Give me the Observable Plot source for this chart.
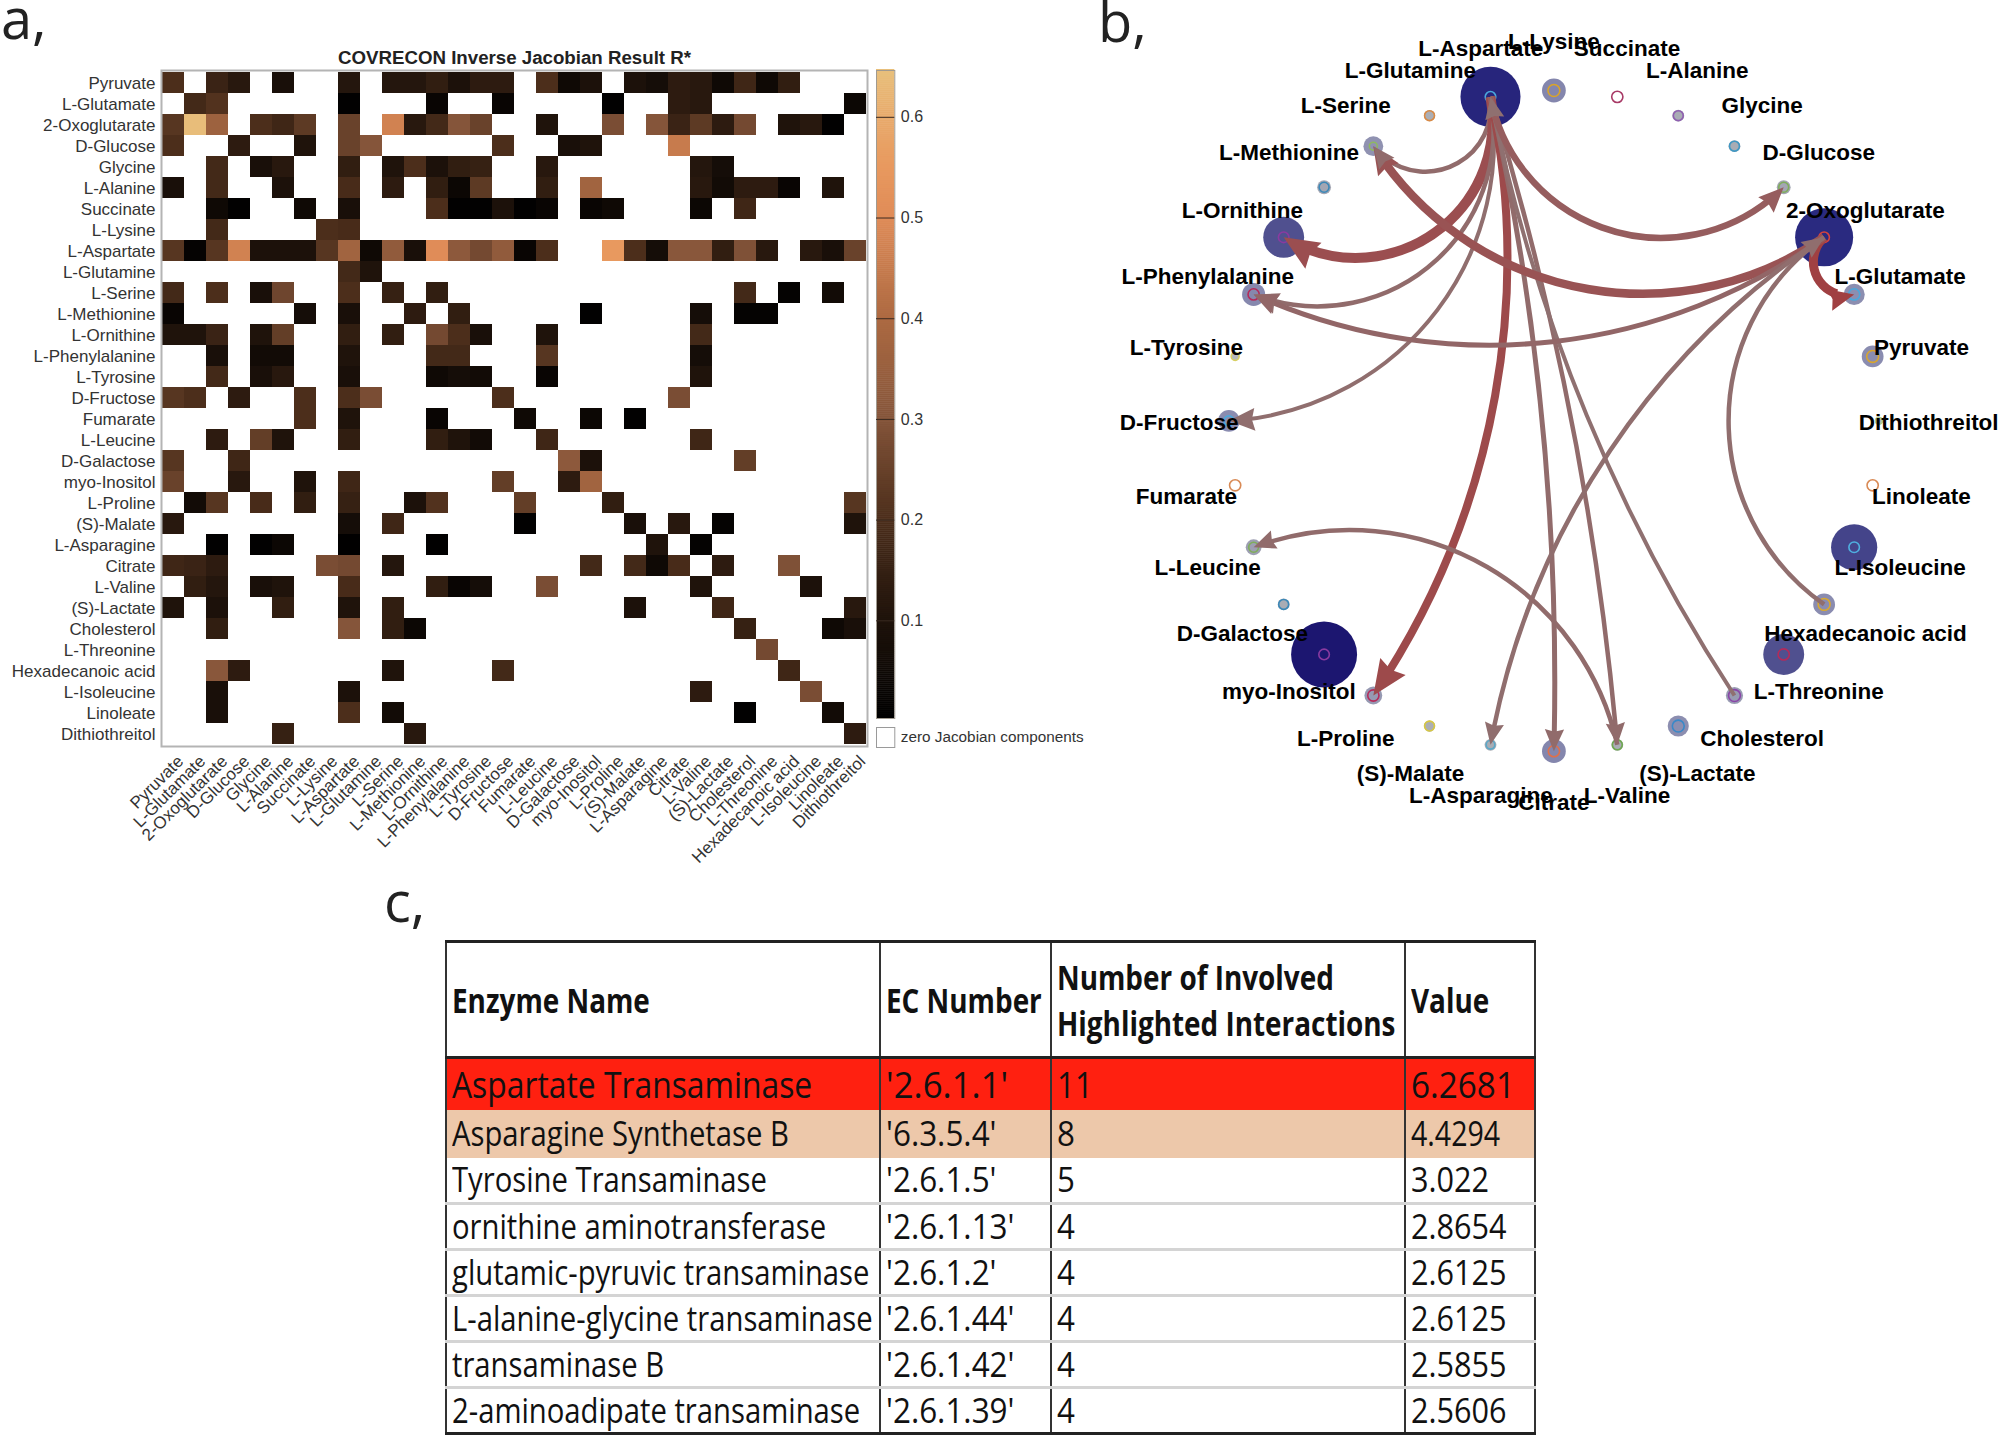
<!DOCTYPE html>
<html><head><meta charset="utf-8">
<script src="https://cdn.jsdelivr.net/npm/d3@7"></script>
<script src="https://cdn.jsdelivr.net/npm/@observablehq/plot@0.6"></script>
<style>
html,body{margin:0;padding:0;background:#fff;width:2000px;height:1437px;overflow:hidden}
#page{position:relative;width:2000px;height:1437px}
.panel{position:absolute}
.tag{position:absolute;font:56px "Open Sans",sans-serif;color:#222;line-height:1}
table{position:absolute;left:445px;top:940px;width:1089px;height:495px;border-collapse:collapse;table-layout:fixed;font-family:"Open Sans",sans-serif;color:#111}
td,th{padding:0 0 0 5px;text-align:left;vertical-align:middle;white-space:nowrap;border-left:2px solid #333;border-right:2px solid #333;border-bottom:3px solid #d4d4d4}
th{font-weight:700;font-size:34px;line-height:46px;border-top:3px solid #222;border-bottom:3px solid #222}
td{line-height:1;padding-bottom:2px}
td span,th span{display:inline-block;transform-origin:0 50%}
tr:last-child td{border-bottom:3px solid #222}
</style></head>
<body><div id="page"></div>
<script>
// ---------- panel a ----------
const metabolites = ["Pyruvate","L-Glutamate","2-Oxoglutarate","D-Glucose","Glycine","L-Alanine","Succinate","L-Lysine","L-Aspartate","L-Glutamine","L-Serine","L-Methionine","L-Ornithine","L-Phenylalanine","L-Tyrosine","D-Fructose","Fumarate","L-Leucine","D-Galactose","myo-Inositol","L-Proline","(S)-Malate","L-Asparagine","Citrate","L-Valine","(S)-Lactate","Cholesterol","L-Threonine","Hexadecanoic acid","L-Isoleucine","Linoleate","Dithiothreitol"];
// one sparse row per metabolite: column index -> |R*| value
const jacobianRows = [
 {0:.2,2:.16,3:.12,5:.08,8:.11,10:.11,11:.11,12:.14,13:.09,14:.13,15:.13,17:.2,18:.05,19:.09,21:.09,22:.07,23:.13,24:.12,25:.05,26:.17,27:.05,28:.14},
 {1:.18,2:.21,8:.01,12:.03,15:.03,20:.01,23:.13,24:.12,31:.04},
 {0:.22,1:.64,2:.36,4:.2,5:.17,6:.23,8:.25,10:.47,11:.12,12:.18,13:.3,14:.25,17:.1,20:.28,22:.3,23:.16,24:.23,25:.13,26:.27,28:.1,29:.12,30:.01},
 {0:.2,3:.13,6:.1,8:.25,9:.3,15:.2,18:.08,19:.1,23:.45},
 {2:.18,4:.08,5:.12,8:.14,10:.1,11:.2,12:.09,13:.14,14:.15,17:.12,24:.11,25:.07},
 {0:.08,2:.18,5:.09,8:.19,10:.13,12:.14,13:.04,14:.23,17:.14,19:.37,24:.12,25:.06,26:.13,27:.13,28:.03,30:.1},
 {2:.05,3:.01,6:.05,8:.08,12:.2,13:.01,14:.01,15:.09,16:.01,17:.03,19:.03,20:.05,24:.04,26:.17},
 {2:.18,7:.2,8:.19},
 {0:.22,1:.02,2:.22,3:.47,4:.09,5:.09,6:.09,7:.22,8:.37,9:.05,10:.33,11:.08,12:.5,13:.32,14:.27,15:.33,16:.03,17:.2,20:.55,21:.2,22:.07,23:.31,24:.31,25:.14,26:.29,27:.12,29:.12,30:.08,31:.25},
 {8:.18,9:.1},
 {0:.18,2:.2,4:.08,5:.26,8:.2,10:.15,12:.14,26:.18,28:.02,30:.06},
 {0:.03,6:.07,8:.08,11:.13,13:.14,19:.01,24:.07,26:.02,27:.02},
 {0:.1,1:.1,2:.16,4:.1,5:.24,8:.14,10:.14,12:.27,13:.2,14:.08,17:.1,24:.18},
 {2:.08,4:.06,5:.06,8:.1,12:.18,13:.18,17:.22,24:.07},
 {2:.18,4:.08,5:.12,8:.08,12:.05,13:.07,14:.06,17:.03,24:.1},
 {0:.22,1:.2,3:.13,6:.2,8:.2,9:.28,15:.2,23:.28},
 {6:.2,8:.1,12:.03,16:.05,19:.04,21:.01},
 {2:.13,4:.24,5:.1,8:.14,12:.14,13:.1,14:.06,17:.17,24:.17},
 {0:.22,3:.17,18:.32,19:.09,26:.24},
 {0:.25,3:.12,6:.1,8:.17,15:.24,18:.13,19:.37},
 {1:.06,2:.22,4:.19,6:.14,8:.15,11:.09,12:.21,16:.24,20:.14,31:.22},
 {0:.12,8:.07,10:.17,16:.01,21:.08,23:.12,25:.02,31:.1},
 {2:.01,4:.01,5:.04,8:.005,12:.005,22:.1,24:.02},
 {0:.17,1:.16,2:.13,7:.28,8:.27,10:.11,19:.18,21:.18,22:.05,23:.19,25:.13,28:.29},
 {1:.14,2:.11,4:.08,5:.1,8:.19,12:.14,13:.03,14:.07,17:.28,24:.1,29:.09},
 {0:.1,2:.09,5:.14,8:.1,10:.14,21:.09,25:.17,31:.12},
 {2:.14,8:.3,10:.14,11:.04,26:.15,30:.05,31:.08},
 {27:.27},
 {2:.31,3:.13,10:.1,15:.18,28:.17},
 {2:.08,8:.09,24:.13,29:.28},
 {2:.08,8:.2,10:.06,26:.01,30:.06},
 {5:.15,11:.12,31:.13}
];
const colorStops = [0.003,0.1,0.2,0.3,0.4,0.5,0.55,0.6,0.6465];
const colorRamp  = ["#000000","#1f130b","#4c2e1b","#85553a","#ad6a42","#e08c58","#e8995f","#e8ab6c","#e8c07c"];
const colorbarTicks = [0.1,0.2,0.3,0.4,0.5,0.6];
const heatTitle = "COVRECON Inverse Jacobian Result R*";
const zeroLabel = "zero Jacobian components";

// ---------- panel b ----------
// nodes clockwise from the top of the ring
const ringOrder = ["L-Lysine","Succinate","L-Alanine","Glycine","D-Glucose","2-Oxoglutarate","L-Glutamate","Pyruvate","Dithiothreitol","Linoleate","L-Isoleucine","Hexadecanoic acid","L-Threonine","Cholesterol","(S)-Lactate","L-Valine","Citrate","L-Asparagine","(S)-Malate","L-Proline","myo-Inositol","D-Galactose","L-Leucine","Fumarate","D-Fructose","L-Tyrosine","L-Phenylalanine","L-Ornithine","L-Methionine","L-Serine","L-Glutamine","L-Aspartate"];
const nodeMass  = [.36,0,.18,.18,.21,.88,.32,.33,.12,0,.70,.33,.62,.26,.32,.18,.36,.18,.17,.27,1,.18,.24,0,.33,.12,.35,.62,.21,.30,.17,.91];
const ringColor = ["#d9a42a","#a83a66","#8f5fb0","#3f98c4","#7fae5a","#d8433d","#4aa8dc","#d8a52e","#b5cf90","#d98a55","#4fb0e0","#d8a830","#b52a5a","#8a45a8","#3a88c8","#6fa850","#e0704a","#5aa8c8","#d8c840","#b52a5a","#8a3aa0","#3a88b8","#7fae5a","#d98a55","#4aa8dc","#d8d060","#b52a5a","#8a3aa0","#3a88b8","#8fb860","#d98a45","#4aa8dc"];
const ringSize  = [.18,.17,.15,.15,.15,.16,.17,.18,.1,.17,.16,.18,.17,.18,.18,.15,.17,.13,.15,.17,.16,.15,.15,.17,.15,.12,.17,.16,.15,.12,.15,.16];
const edgeFrom  = [31,31,31,31,31,31,31,13,31,5,5,5,5,11,15];
const edgeTo    = [29,27,26,24,19,16,15,31,4,6,29,26,17,5,22];
const edgeBend  = [75,66,61,48,23,7,6,11,-62,-75,46,30,-23,55,-49];
const edgeWeight= [4.5,10,4.5,4,8,5,4.5,4,6.5,9,8.5,5,4.5,4.5,4.5];
const edgeHead  = [22,35,25,26,35,22,22,22,25,25,28,24,22,22,22];
const edgeHeat  = [.1,.7,.1,.05,.8,.1,.1,0,.4,1,.6,.2,.05,.05,.1];

// ---------- panel c ----------
const tableHeader = ["Enzyme Name","EC Number","Number of Involved<br>Highlighted Interactions","Value"];
const enzymeNames = ["Aspartate Transaminase","Asparagine Synthetase B","Tyrosine Transaminase","ornithine aminotransferase","glutamic-pyruvic transaminase","L-alanine-glycine transaminase","transaminase B","2-aminoadipate transaminase"];
const ecNumbers = ["'2.6.1.1'","'6.3.5.4'","'2.6.1.5'","'2.6.1.13'","'2.6.1.2'","'2.6.1.44'","'2.6.1.42'","'2.6.1.39'"];
const interactionCounts = [11,8,5,4,4,4,4,4];
const enzymeValues = ["6.2681","4.4294","3.022","2.8654","2.6125","2.6125","2.5855","2.5606"];
const rowFill = ["#ff2010","#edc8aa",null,null,null,null,null,null];

const page = document.getElementById("page");
function place(node, left, top){ const d=document.createElement("div"); d.className="panel"; d.style.left=left+"px"; d.style.top=top+"px"; d.appendChild(node); page.appendChild(d); return d; }
function tag(t,left,baseline){ const s=document.createElement("div"); s.className="tag"; s.textContent=t; s.style.left=left+"px"; s.style.top=(baseline-49)+"px"; page.appendChild(s); }
tag("a,",1,38); tag("b,",1098,41); tag("c,",384,921);

const colorScale = {type:"linear", domain:colorStops, range:colorRamp, interpolate:"rgb", clamp:true};
const cells = jacobianRows.flatMap((row,i)=>Object.entries(row).map(([c,v])=>({row:metabolites[i],col:metabolites[+c],v})));
const labelFont = '"Liberation Sans",Arial,sans-serif';

// heat map
place(Plot.plot({
  width:880, height:880, marginLeft:161, marginRight:13, marginTop:70, marginBottom:134,
  style:{background:"transparent",fontFamily:labelFont},
  x:{type:"band",domain:metabolites,padding:0,axis:null},
  y:{type:"band",domain:metabolites,padding:0,axis:null},
  color:colorScale,
  marks:[
    Plot.cell(cells,{x:"col",y:"row",fill:"v",inset:0}),
    Plot.frame({stroke:"#b4b4b4",strokeWidth:2}),
    Plot.axisY({domain:metabolites,tickSize:0,tickPadding:6,fontSize:17,color:"#333",label:null,dy:.5}),
    Plot.axisX({domain:metabolites,tickSize:0,tickPadding:12,tickRotate:-45,fontSize:17,color:"#333",label:null,dx:7}),
    Plot.text([heatTitle],{frameAnchor:"top",dy:-19.5,fontSize:18.7,fontWeight:"bold",fill:"#222"})
  ]
}),0,0);

// colour bar
const barBins = d3.range(0.003,0.6465,0.002);
place(Plot.plot({
  width:240, height:760, marginLeft:16, marginRight:205.7, marginTop:70, marginBottom:42,
  style:{background:"transparent",fontFamily:labelFont},
  x:{domain:[0,1],axis:null},
  y:{domain:[0.003,0.6465],axis:null},
  color:colorScale,
  marks:[
    Plot.rect(barBins,{x1:0,x2:1,y1:d=>d,y2:d=>d+0.0025,fill:d=>d}),
    Plot.frame({stroke:"#a09a90",strokeWidth:1}),
    Plot.tickY(colorbarTicks,{y:d=>d,x1:.72,x2:1,stroke:"#3a2a20",strokeWidth:1}),
    Plot.text(colorbarTicks,{y:d=>d,x:1,text:d=>d.toFixed(1),textAnchor:"start",dx:6,fontSize:16,fill:"#333"})
  ]
}),860,0);
// zero box
place(Plot.plot({
  width:240, height:24, marginLeft:16, marginRight:205.7, marginTop:2, marginBottom:2,
  style:{background:"transparent",fontFamily:labelFont},
  x:{domain:[0,1],axis:null}, y:{domain:[0,1],axis:null},
  marks:[
    Plot.frame({stroke:"#9a9a9a",strokeWidth:1,fill:"#fff"}),
    Plot.text([zeroLabel],{x:1,y:.5,textAnchor:"start",dx:6,fontSize:15.3,fill:"#333"})
  ]
}),860,725);

// network
const ringRX=325, ringRY=330.35, labelReach=1.153, netLeft=1108;
const angle = i=>i*2*Math.PI/ringOrder.length;
const nodes = ringOrder.map((name,i)=>({name,i,x:Math.sin(angle(i)),y:Math.cos(angle(i)),mass:nodeMass[i],ring:ringColor[i],rs:ringSize[i]}));
const edges = edgeFrom.map((f,i)=>{
  const a=nodes[f], b=nodes[edgeTo[i]];
  const phi=Math.atan2(-(b.y-a.y)*ringRY,(b.x-a.x)*ringRX)*180/Math.PI;
  return {x1:a.x,y1:a.y,x2:b.x,y2:b.y,bend:edgeBend[i],w:edgeWeight[i],head:edgeHead[i],rotate:phi+edgeBend[i]+90,color:d3.interpolateRgb("#8f7070","#a04042")(edgeHeat[i])};
});
const arrowHead = {draw(ctx,size){const l=Math.sqrt(size); ctx.moveTo(0,0); ctx.lineTo(l*.46,l*1.05); ctx.lineTo(0,l*.93); ctx.lineTo(-l*.46,l*1.05); ctx.closePath();}};
place(Plot.plot({
  width:892, height:840, marginLeft:120.4, marginRight:121.6, marginTop:90, marginBottom:89.3,
  style:{background:"transparent",fontFamily:labelFont,overflow:"visible"},
  x:{domain:[-1,1],axis:null}, y:{domain:[-1,1],axis:null},
  r:{type:"linear",domain:[0,1],range:[0,33]},
  color:{type:"linear",domain:[0,.18,.33,.62,.88,1],range:["#cfcfc8","#a9acb4","#8a8cb0","#50508f","#2a2a80","#1c1670"],interpolate:"rgb"},
  marks:[
    Plot.dot(nodes.filter(d=>d.mass>0),{x:"x",y:"y",r:"mass",fill:"mass",stroke:null}),
    Plot.dot(nodes,{x:"x",y:"y",r:"rs",fill:"none",stroke:{value:"ring",scale:null},strokeWidth:1.6}),
    ...edges.map(e=>Plot.arrow([e],{x1:"x1",y1:"y1",x2:"x2",y2:"y2",bend:e.bend,headLength:0,insetEnd:e.head*.7,stroke:e.color,strokeWidth:e.w,strokeLinecap:"butt"})),
    Plot.dot(edges,{x:"x2",y:"y2",symbol:arrowHead,r:{value:d=>d.head/1.05/Math.sqrt(Math.PI),scale:null},fill:{value:"color",scale:null},rotate:"rotate",stroke:null}),
    Plot.text(nodes,{x:d=>d.x*labelReach,y:d=>d.y*labelReach,text:"name",fontSize:22.5,fontWeight:"bold",fill:"#000",textAnchor:"middle",lineAnchor:"middle",dy:1.5})
  ]
}),netLeft,0);

// table
const tbl=document.createElement("table");
const widths=[434,171,354,130];
const colSquash=[.86,.925,.92,.9];
const squashRow0=[.86,.94,.85,.9], squashRow1=[.86,.925,.92,.84];
tbl.innerHTML="<colgroup>"+widths.map(w=>`<col style="width:${w}px">`).join("")+"</colgroup>"+
 `<tr style="height:116px">${tableHeader.map(h=>`<th><span style="transform:scaleX(.82)">${h}</span></th>`).join("")}</tr>`+
 enzymeNames.map((n,i)=>{
   const h=[52,48,46,46,46,46,46,46][i], fs=[37,34,34,34,34,34,34,34][i];
   const st=rowFill[i]?`background:${rowFill[i]};`:"";
   const b=i<2?"border-bottom:0;":"";
   const sq=i==0?squashRow0:i==1?squashRow1:colSquash;
   return `<tr style="height:${h}px">`+[n,ecNumbers[i],interactionCounts[i],enzymeValues[i]].map((v,c)=>`<td style="${st}${b}font-size:${fs}px"><span style="transform:scaleX(${sq[c]})">${v}</span></td>`).join("")+"</tr>";
 }).join("");
page.appendChild(tbl);
</script>
</body></html>
